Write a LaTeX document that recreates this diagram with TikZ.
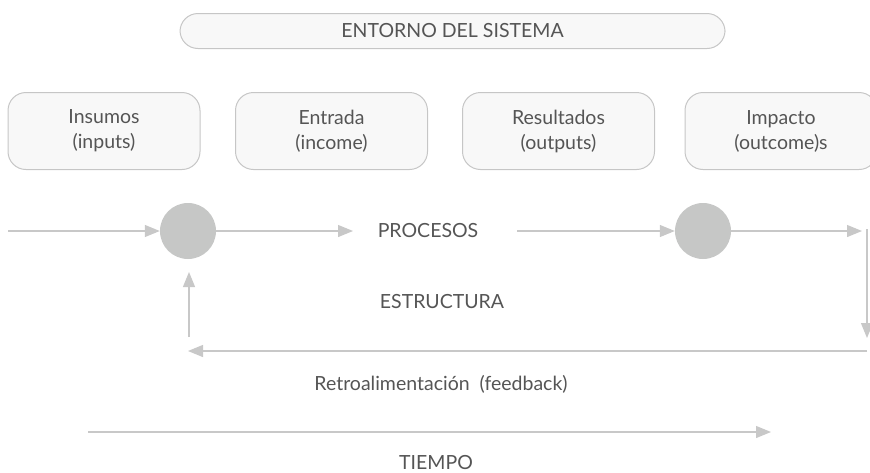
\documentclass[tikz,border=0pt]{standalone}
\usepackage{fontspec}
\setmainfont{Lato}
\usetikzlibrary{arrows.meta}
\definecolor{lineg}{HTML}{C8C8C8}
\definecolor{boxfill}{HTML}{F8F8F8}
\definecolor{boxline}{HTML}{C6C6C6}
\definecolor{dotg}{HTML}{C6C7C6}
\definecolor{txt}{HTML}{555555}
\begin{document}
\begin{tikzpicture}[x=1pt,y=-1pt,
  every node/.style={text=txt,font=\fontsize{19.5}{25}\selectfont},
  rbox/.style={draw=boxline,fill=boxfill,line width=1pt,rounded corners=18pt,inner sep=0pt,align=center},
  dot/.style={circle,fill=dotg,minimum size=56pt,inner sep=0pt},
  conn/.style={draw=lineg,line width=1.2pt,-{Triangle[length=15pt,width=12pt]}},
  lbl/.style={inner sep=0pt}]
\useasboundingbox (0,0) rectangle (870,472);
\clip (0,0) rectangle (870,472);
% environment box
\node[rbox,minimum width=545pt,minimum height=35pt] (env) at (452.5,31) {ENTORNO DEL SISTEMA};
% boxes
\node[rbox,minimum width=192pt,minimum height=77pt] (ins) at (104,131) {Insumos\\(inputs)};
\node[rbox,minimum width=192pt,minimum height=77pt] (ent) at (331.5,131) {Entrada\\(income)};
\node[rbox,minimum width=192pt,minimum height=77pt] (res) at (558.5,131) {Resultados\\(outputs)};
\node[rbox,minimum width=192pt,minimum height=77pt] (imp) at (781,131) {Impacto\\(outcome)s};
% circles
\node[dot] (c1) at (188,231) {};
\node[dot] (c2) at (703,231) {};
% labels
\node[lbl] (proc) at (428,231) {PROCESOS};
\node[lbl] (estr) at (442,302) {ESTRUCTURA};
\node[lbl] (retro) at (441,384) {Retroalimentación\ \ (feedback)};
\node[lbl] (tiem) at (436,462) {TIEMPO};
% coordinates
\coordinate (inL) at (8,231);
\coordinate (p1) at (353,231);
\coordinate (p2) at (517,231);
\coordinate (r1) at (862,231);
\coordinate (rt) at (867,229);
\coordinate (rb) at (867,338);
\coordinate (fbR) at (867,351);
\coordinate (fbL) at (188,351);
\coordinate (upB) at (189,337);
\coordinate (upT) at (189,272);
\coordinate (tA) at (88,432);
\coordinate (tB) at (771,432);
% connectors
\draw[conn] (inL) -- (c1.west);
\draw[conn] (c1.east) -- (p1);
\draw[conn] (p2) -- (c2.west);
\draw[conn] (c2.east) -- (r1);
\draw[conn] (rt) -- (rb);
\draw[conn] (fbR) -- (fbL);
\draw[conn] (upB) -- (upT);
\draw[conn] (tA) -- (tB);
\end{tikzpicture}
\end{document}
